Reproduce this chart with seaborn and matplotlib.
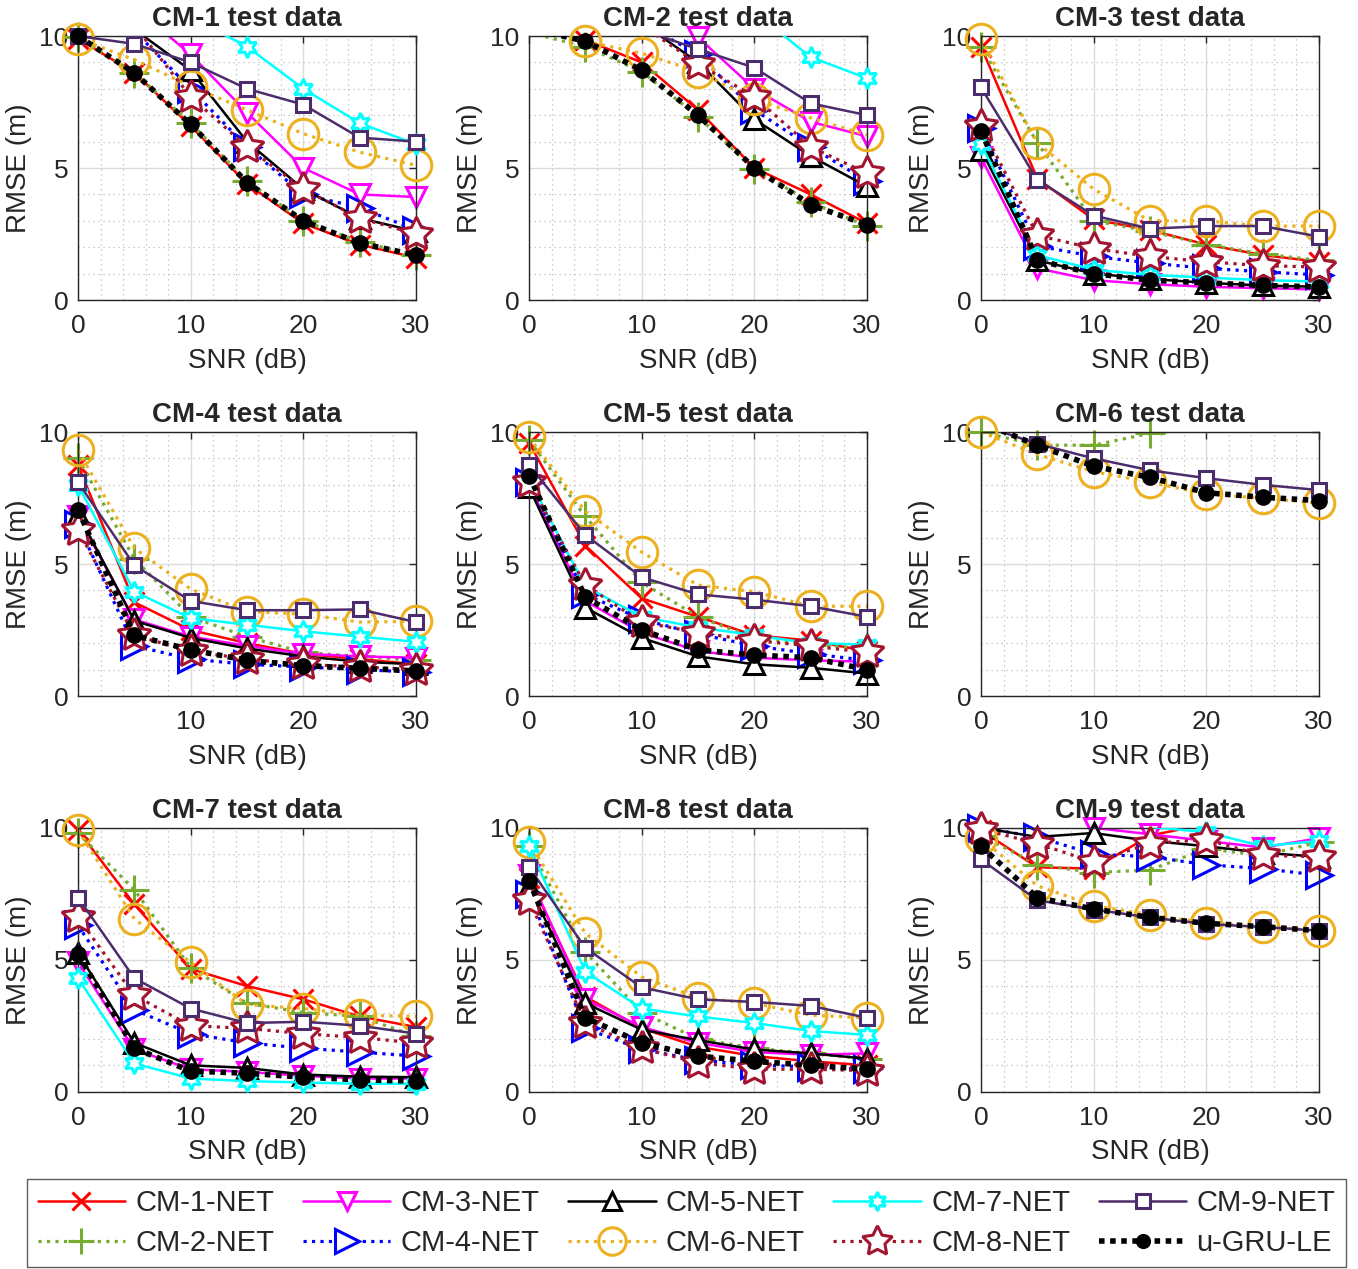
import numpy as np
import pandas as pd
import matplotlib
matplotlib.use("Agg")
import matplotlib.pyplot as plt
import seaborn as sns
from matplotlib.lines import Line2D
from matplotlib.ticker import MultipleLocator

N = np.nan
snr = [0, 5, 10, 15, 20, 25, 30]
series_names = ["CM-1-NET", "CM-2-NET", "CM-3-NET", "CM-4-NET", "CM-5-NET",
                "CM-6-NET", "CM-7-NET", "CM-8-NET", "CM-9-NET", "u-GRU-LE"]
panel_titles = ["CM-1 test data", "CM-2 test data", "CM-3 test data",
                "CM-4 test data", "CM-5 test data", "CM-6 test data",
                "CM-7 test data", "CM-8 test data", "CM-9 test data"]
ytick_vals = [0, 5, 10]
xtick_vals = [0, 10, 20, 30]

cm1_test = {
    "CM-1-NET": [9.9, 8.6, 6.6, 4.4, 2.9, 2.1, 1.6],
    "CM-2-NET": [9.95, 8.6, 6.7, 4.5, 3.0, 2.2, 1.7],
    "CM-3-NET": [N, 11.1, 9.3, 7.1, 5.0, 4.0, 3.9],
    "CM-4-NET": [N, 10.2, 8.0, 5.8, 4.0, 3.5, 2.65],
    "CM-5-NET": [10.4, 10.25, 8.7, 6.0, 4.2, 3.1, 2.6],
    "CM-6-NET": [9.9, 9.1, 8.1, 7.2, 6.3, 5.6, 5.1],
    "CM-7-NET": [N, N, 10.7, 9.6, 8.0, 6.7, 5.9],
    "CM-8-NET": [N, 10.4, 7.7, 5.8, 4.2, 3.1, 2.5],
    "CM-9-NET": [10.0, 9.7, 9.0, 8.0, 7.4, 6.15, 6.0],
    "u-GRU-LE": [10.0, 8.6, 6.65, 4.45, 3.0, 2.15, 1.7],
}
cm2_test = {
    "CM-1-NET": [N, 9.85, 9.0, 7.2, 5.0, 4.0, 2.9],
    "CM-2-NET": [10.13, 9.6, 8.65, 6.95, 4.95, 3.7, 2.8],
    "CM-3-NET": [N, N, N, 9.95, 8.0, 6.75, 6.2],
    "CM-4-NET": [N, N, 10.5, 9.3, 7.2, 5.8, 4.5],
    "CM-5-NET": [N, N, 10.5, 9.0, 6.85, 5.45, 4.3],
    "CM-6-NET": [N, 9.8, 9.35, 8.65, 7.6, 6.9, 6.25],
    "CM-7-NET": [N, N, N, N, 10.9, 9.2, 8.4],
    "CM-8-NET": [N, N, 10.4, 8.95, 7.7, 5.8, 4.8],
    "CM-9-NET": [N, N, 10.24, 9.5, 8.8, 7.45, 7.0],
    "u-GRU-LE": [10.3, 9.8, 8.7, 7.0, 5.0, 3.6, 2.85],
}
cm3_test = {
    "CM-1-NET": [9.6, 4.6, 3.05, 2.65, 2.1, 1.7, 1.45],
    "CM-2-NET": [9.6, 5.95, 3.0, 2.6, 2.1, 1.75, 1.5],
    "CM-3-NET": [5.4, 1.2, 0.75, 0.6, 0.5, 0.45, 0.4],
    "CM-4-NET": [6.5, 2.05, 1.65, 1.4, 1.2, 1.07, 0.95],
    "CM-5-NET": [5.7, 1.5, 1.0, 0.8, 0.65, 0.55, 0.5],
    "CM-6-NET": [9.87, 5.95, 4.2, 3.0, 3.0, 2.8, 2.8],
    "CM-7-NET": [5.9, 1.7, 1.15, 0.95, 0.85, 0.75, 0.7],
    "CM-8-NET": [6.6, 2.45, 1.95, 1.65, 1.45, 1.3, 1.25],
    "CM-9-NET": [8.05, 4.55, 3.2, 2.7, 2.8, 2.8, 2.4],
    "u-GRU-LE": [6.4, 1.5, 1.0, 0.75, 0.65, 0.55, 0.5],
}
cm4_test = {
    "CM-1-NET": [8.75, 3.55, 2.5, 2.0, 1.6, 1.4, 1.2],
    "CM-2-NET": [9.0, 5.2, 3.0, 2.25, 1.65, 1.5, 1.35],
    "CM-3-NET": [6.8, 2.9, 2.25, 1.9, 1.6, 1.5, 1.45],
    "CM-4-NET": [6.5, 1.9, 1.4, 1.2, 1.1, 1.0, 0.9],
    "CM-5-NET": [6.9, 2.85, 2.2, 1.8, 1.5, 1.3, 1.2],
    "CM-6-NET": [9.3, 5.6, 4.05, 3.2, 3.1, 2.8, 2.83],
    "CM-7-NET": [8.0, 3.95, 2.95, 2.7, 2.45, 2.25, 2.05],
    "CM-8-NET": [6.3, 2.3, 1.7, 1.4, 1.2, 1.1, 1.0],
    "CM-9-NET": [8.1, 4.95, 3.6, 3.25, 3.25, 3.28, 2.8],
    "u-GRU-LE": [7.05, 2.3, 1.75, 1.35, 1.15, 1.05, 0.95],
}
cm5_test = {
    "CM-1-NET": [9.6, 5.7, 3.7, 3.0, 2.3, 2.1, 1.7],
    "CM-2-NET": [9.7, 6.8, 4.3, 3.0, 2.2, 1.95, 1.8],
    "CM-3-NET": [8.0, 3.6, 2.4, 1.7, 1.45, 1.35, 1.3],
    "CM-4-NET": [8.1, 3.85, 2.9, 2.35, 1.9, 1.6, 1.35],
    "CM-5-NET": [7.9, 3.35, 2.2, 1.5, 1.2, 1.07, 0.85],
    "CM-6-NET": [9.8, 7.0, 5.45, 4.2, 3.95, 3.4, 3.4],
    "CM-7-NET": [8.2, 4.15, 3.0, 2.6, 2.3, 2.0, 1.95],
    "CM-8-NET": [8.1, 4.2, 2.8, 2.4, 2.1, 1.9, 1.65],
    "CM-9-NET": [8.75, 6.1, 4.5, 3.85, 3.65, 3.4, 3.0],
    "u-GRU-LE": [8.35, 3.75, 2.5, 1.75, 1.55, 1.45, 1.0],
}
cm6_test = {
    "CM-1-NET": [N, N, N, N, N, N, N],
    "CM-2-NET": [10.0, 9.5, 9.5, 9.95, 10.15, N, N],
    "CM-3-NET": [N, N, N, N, N, N, N],
    "CM-4-NET": [N, N, N, N, N, N, N],
    "CM-5-NET": [N, N, N, N, N, N, N],
    "CM-6-NET": [10.0, 9.15, 8.5, 8.1, 7.65, 7.5, 7.3],
    "CM-7-NET": [N, N, N, N, N, N, N],
    "CM-8-NET": [N, N, N, N, N, N, N],
    "CM-9-NET": [10.27, 9.55, 9.0, 8.55, 8.25, 8.0, 7.8],
    "u-GRU-LE": [10.36, 9.5, 8.7, 8.28, 7.7, 7.53, 7.4],
}
cm7_test = {
    "CM-1-NET": [9.9, 7.1, 4.65, 4.0, 3.5, 2.85, 2.45],
    "CM-2-NET": [9.8, 7.65, 4.7, 3.35, 3.0, 2.85, 2.1],
    "CM-3-NET": [4.9, 1.6, 0.85, 0.75, 0.6, 0.5, 0.5],
    "CM-4-NET": [6.3, 3.1, 2.2, 1.85, 1.65, 1.5, 1.35],
    "CM-5-NET": [5.25, 1.85, 1.0, 0.9, 0.65, 0.57, 0.55],
    "CM-6-NET": [9.9, 6.55, 4.9, 3.3, 3.15, 2.9, 2.85],
    "CM-7-NET": [4.3, 1.07, 0.5, 0.4, 0.35, 0.3, 0.3],
    "CM-8-NET": [6.6, 3.65, 2.5, 2.4, 2.2, 2.05, 1.85],
    "CM-9-NET": [7.35, 4.3, 3.15, 2.6, 2.65, 2.5, 2.2],
    "u-GRU-LE": [5.2, 1.65, 0.78, 0.7, 0.55, 0.45, 0.4],
}
cm8_test = {
    "CM-1-NET": [8.1, 3.6, 2.4, 1.7, 1.35, 1.15, 1.0],
    "CM-2-NET": [9.3, 5.3, 3.0, 2.0, 1.65, 1.45, 1.25],
    "CM-3-NET": [8.2, 3.5, 2.45, 1.85, 1.5, 1.4, 1.45],
    "CM-4-NET": [7.5, 2.4, 1.6, 1.2, 1.0, 0.95, 0.85],
    "CM-5-NET": [7.8, 3.35, 2.35, 1.95, 1.6, 1.45, 1.25],
    "CM-6-NET": [9.45, 6.0, 4.35, 3.55, 3.35, 2.9, 2.8],
    "CM-7-NET": [9.3, 4.55, 3.15, 2.85, 2.6, 2.3, 2.15],
    "CM-8-NET": [7.25, 2.6, 1.65, 1.1, 0.85, 0.85, 0.8],
    "CM-9-NET": [8.5, 5.45, 3.95, 3.5, 3.4, 3.25, 2.8],
    "u-GRU-LE": [8.0, 2.8, 1.85, 1.35, 1.15, 1.0, 0.85],
}
cm9_test = {
    "CM-1-NET": [9.9, 8.5, 8.45, 9.7, 10.14, N, N],
    "CM-2-NET": [9.7, 8.6, 8.3, 8.4, 9.2, 8.95, 9.45],
    "CM-3-NET": [N, N, 10.0, 9.75, 9.5, 9.25, 9.6],
    "CM-4-NET": [10.0, 9.65, 9.0, 8.9, 8.6, 8.45, 8.2],
    "CM-5-NET": [10.0, 9.65, 9.8, 9.5, 9.3, 9.05, 8.9],
    "CM-6-NET": [9.6, 7.8, 7.05, 6.7, 6.4, 6.25, 6.1],
    "CM-7-NET": [N, N, N, 10.03, 9.83, 9.3, 9.5],
    "CM-8-NET": [9.95, 9.4, 8.7, 9.4, 9.55, 8.95, 8.9],
    "CM-9-NET": [8.8, 7.25, 6.9, 6.6, 6.35, 6.24, 6.1],
    "u-GRU-LE": [9.3, 7.35, 6.92, 6.6, 6.38, 6.25, 6.1],
}
panels = [cm1_test, cm2_test, cm3_test, cm4_test, cm5_test,
          cm6_test, cm7_test, cm8_test, cm9_test]

PURPLE = "#4B2C6C"
styles = {
    "CM-1-NET": dict(color="#FF0000", marker="x", ls="-", lw=1.8, ms=15, mfc="none", mew=2.2),
    "CM-2-NET": dict(color="#77AC30", marker="+", ls=":", lw=2.3, ms=21, mfc="none", mew=2.2),
    "CM-3-NET": dict(color="#FF00FF", marker="v", ls="-", lw=1.8, ms=14, mfc="white", mew=2.2),
    "CM-4-NET": dict(color="#0000FF", marker=">", ls=":", lw=2.3, ms=19, mfc="white", mew=2.2),
    "CM-5-NET": dict(color="#000000", marker="^", ls="-", lw=1.8, ms=15, mfc="white", mew=2.2),
    "CM-6-NET": dict(color="#EDB120", marker="o", ls=":", lw=2.3, ms=22, mfc="none", mew=2.2),
    "CM-7-NET": dict(color="#00FFFF", marker=(6, 1, 0), ls="-", lw=1.8, ms=15, mfc="white", mew=2.2),
    "CM-8-NET": dict(color="#A2142F", marker=(5, 1, 0), ls=":", lw=2.3, ms=25, mfc="white", mew=2.2),
    "CM-9-NET": dict(color=PURPLE, marker="s", ls="-", lw=1.8, ms=10.5, mfc="white", mew=2.2),
    "u-GRU-LE": dict(color="#000000", marker="o", ls=(0, (1, 1)), lw=4.0, ms=11, mfc="#000000", mew=1.0),
}

sns.set_style("white")
plt.rcParams["font.family"] = ["Liberation Sans", "DejaVu Sans"]
plt.rcParams["lines.dash_capstyle"] = "butt"

W, H = 1358, 1269
fig = plt.figure(figsize=(W / 100, H / 100), dpi=100)

col_left = [78 / W, 529 / W, 981 / W]
ax_w = 338 / W
row_bot = [1 - 300 / H, 1 - 696 / H, 1 - 1091.7 / H]
ax_h = 264 / H

for i, data in enumerate(panels):
    r, c = divmod(i, 3)
    ax = fig.add_axes([col_left[c], row_bot[r], ax_w, ax_h])
    for k, name in enumerate(series_names):
        vals = np.array(data[name], dtype=float)
        st = styles[name]
        if np.all(np.isnan(vals)):
            continue
        df = pd.DataFrame({"snr": snr, "rmse": vals}).dropna()
        z = 2 + k * 0.1
        sns.lineplot(data=df, x="snr", y="rmse", ax=ax, estimator=None,
                     color=st["color"], linestyle=st["ls"], linewidth=st["lw"],
                     legend=False, zorder=z)
        dm = df[(df["rmse"] >= 0) & (df["rmse"] <= 10.0 + 1e-9)]
        if len(dm):
            sns.lineplot(data=dm, x="snr", y="rmse", ax=ax, estimator=None,
                         color=st["color"], linestyle="none", marker=st["marker"],
                         markersize=st["ms"], markerfacecolor=st["mfc"],
                         markeredgecolor=st["color"], markeredgewidth=st["mew"],
                         legend=False, zorder=z + 0.05, clip_on=False)
    ax.set_xlim(0, 30)
    ax.set_ylim(0, 10)
    ax.set_xticks(xtick_vals)
    if i == 3:
        ax.set_xticklabels(["", "10", "20", "30"])
    ax.set_yticks(ytick_vals)
    ax.xaxis.set_minor_locator(MultipleLocator(2))
    ax.yaxis.set_minor_locator(MultipleLocator(1))
    ax.grid(which="major", color="#dcdcdc", linewidth=1.0, linestyle="-")
    ax.grid(which="minor", color="#bdbdbd", linewidth=0.9, linestyle=(0, (1, 3)))
    ax.set_axisbelow(True)
    ax.tick_params(which="major", direction="in", top=True, right=True,
                   length=5, width=1, labelsize=19, colors="#262626",
                   labelcolor="#262626")
    ax.tick_params(axis="x", which="major", pad=10)
    ax.tick_params(axis="y", which="major", pad=7)
    ax.tick_params(which="minor", length=0)
    for sp in ax.spines.values():
        sp.set_color("#262626")
        sp.set_linewidth(1.0)
        sp.set_visible(True)
    ax.set_title(panel_titles[i], fontsize=20, fontweight="bold", pad=7)
    ax.set_xlabel("SNR (dB)", fontsize=20, color="#262626", labelpad=7)
    ax.set_ylabel("RMSE (m)", fontsize=20, color="#262626", labelpad=5)

handles = []
for name in series_names:
    st = styles[name]
    handles.append(Line2D([0], [0], color=st["color"], linestyle=st["ls"],
                          linewidth=st["lw"], marker=st["marker"],
                          markersize=st["ms"] * 0.9, markerfacecolor=st["mfc"],
                          markeredgecolor=st["color"], markeredgewidth=st["mew"]))
leg = fig.legend(handles, series_names, ncol=5, loc="lower center",
                 bbox_to_anchor=(0.5055, 0.0015), borderaxespad=0.0,
                 frameon=True, fancybox=False,
                 fontsize=21, handlelength=3.0, handletextpad=0.35,
                 columnspacing=0.98, borderpad=0.35, labelspacing=0.4,
                 edgecolor="#333333")
leg.get_frame().set_linewidth(1.0)

fig.savefig("out.png", dpi=100, facecolor="white")
